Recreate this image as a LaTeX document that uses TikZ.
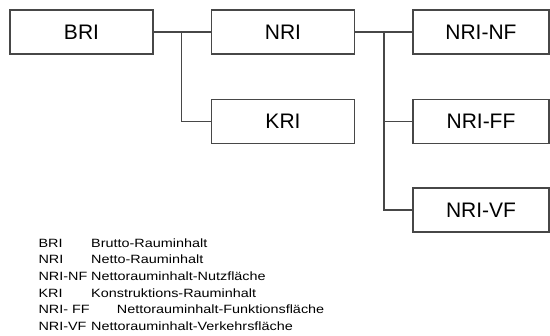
\documentclass[tikz,border=0pt]{standalone}
\usepackage{fontspec}
\setmainfont{Liberation Sans}
\usetikzlibrary{positioning}
\definecolor{linegray}{HTML}{474747}
\tikzset{
  box/.style={draw=linegray,line width=1.3pt,minimum width=143pt,minimum height=44pt,
    inner sep=0pt,font=\fontsize{21}{25}\selectfont},
  rbox/.style={box,minimum width=136pt},
  link/.style={draw=linegray,line width=1.2pt},
  leg/.style={anchor=base west,inner sep=0pt,xscale=1.2,transform shape,
    font=\fontsize{12}{14}\selectfont}
}
\begin{document}
\begin{tikzpicture}[x=1pt,y=-1pt]
\useasboundingbox (0,0) rectangle (550,336);
\path (81.5,32) node[box] (bri) {BRI}
(283,32) node[box] (nri) {NRI}
(283,121.5) node[box] (kri) {KRI}
(481,32) node[rbox] (nrinf) {NRI-NF}
(481,121.5) node[rbox] (nriff) {NRI-FF}
(481,210) node[rbox] (nrivf) {NRI-VF};
\coordinate (j1) at (181.5,32);
\coordinate (j2) at (384,32);
\draw[link] (bri) -- (nri);
\draw[link] (j1) |- (kri);
\draw[link] (nri) -- (nrinf);
\draw[link] (j2) |- (nriff);
\draw[link] (j2) |- (nrivf);
% legend
\path (38.3,247.3) node[leg] (l1) {BRI}
(91,247.3) node[leg] (d1) {Brutto-Rauminhalt}
(38.3,263.9) node[leg] (l2) {NRI}
(91,263.9) node[leg] (d2) {Netto-Rauminhalt}
(38.3,280.5) node[leg] (l3) {NRI-NF}
(91,280.5) node[leg] (d3) {Nettorauminhalt-Nutzfläche}
(38.3,297.1) node[leg] (l4) {KRI}
(91,297.1) node[leg] (d4) {Konstruktions-Rauminhalt}
(38.3,313.7) node[leg] (l5) {NRI- FF}
(116.7,313.7) node[leg] (d5) {Nettorauminhalt-Funktionsfläche}
(38.3,330.3) node[leg] (l6) {NRI-VF}
(91,330.3) node[leg] (d6) {Nettorauminhalt-Verkehrsfläche};
\end{tikzpicture}
\end{document}
